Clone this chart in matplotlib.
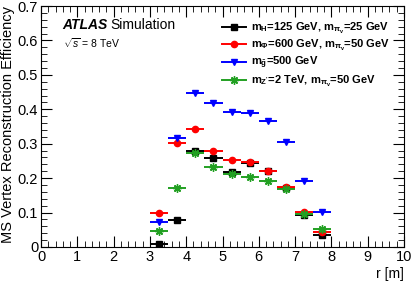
import numpy as np
import matplotlib.pyplot as plt
from matplotlib.ticker import MultipleLocator
from matplotlib.lines import Line2D

plt.rcParams['font.family'] = ['Liberation Sans', 'DejaVu Sans']
plt.rcParams['mathtext.fontset'] = 'custom'
plt.rcParams['mathtext.rm'] = 'Liberation Sans'
plt.rcParams['mathtext.it'] = 'Liberation Sans:italic'
plt.rcParams['mathtext.bf'] = 'Liberation Sans:bold'

# -------- DATA --------
r_bins = [3.25, 3.75, 4.25, 4.75, 5.25, 5.75, 6.25, 6.75, 7.25, 7.75]
eff_higgs = [0.008, 0.078, 0.279, 0.259, 0.219, 0.243, 0.222, 0.172, 0.093, 0.035]
eff_phi = [0.100, 0.302, 0.343, 0.279, 0.253, 0.247, 0.221, 0.175, 0.103, 0.045]
eff_gluino = [0.072, 0.318, 0.447, 0.419, 0.392, 0.389, 0.365, 0.304, 0.191, 0.103]
eff_zprime = [0.046, 0.172, 0.274, 0.232, 0.212, 0.204, 0.193, 0.168, 0.095, 0.052]

labels = [
    r"$\mathbf{m_{H}}$=125 GeV, $\mathbf{m_{\pi_v}}$=25 GeV",
    r"$\mathbf{m_{\Phi}}$=600 GeV, $\mathbf{m_{\pi_v}}$=50 GeV",
    r"$\mathbf{m_{\tilde{g}}}$=500 GeV",
    r"$\mathbf{m_{Z'}}$=2 TeV, $\mathbf{m_{\pi_v}}$=50 GeV",
]

# -------- PLOT --------
fig = plt.figure(figsize=(4.15, 2.81), dpi=100)
ax = fig.add_axes([41 / 415, 34 / 281, 363 / 415, 241 / 281])

series = [
    (eff_higgs, 'black', 's', 4),
    (eff_phi, 'red', 'o', 4.5),
    (eff_gluino, 'blue', 'v', 4.5),
    (eff_zprime, '#22a022', (8, 2, 0), 6),
]
for vals, col, mk, ms in series:
    ax.errorbar(r_bins, vals, xerr=0.25, yerr=0.004, fmt='none', ecolor=col,
                lw=1.4, capsize=0)
    ax.plot(r_bins, vals, linestyle='none', marker=mk, color=col, ms=ms,
            mew=1.0)

ax.set_xlim(0, 10)
ax.set_ylim(0, 0.7)
ax.set_xticks(range(11))
ax.set_xticklabels([str(i) for i in range(11)])
ax.set_yticks(np.arange(0, 0.71, 0.1))
ax.set_yticklabels(['0', '0.1', '0.2', '0.3', '0.4', '0.5', '0.6', '0.7'])
ax.xaxis.set_minor_locator(MultipleLocator(0.2))
ax.yaxis.set_minor_locator(MultipleLocator(0.02))
ax.tick_params(which='both', direction='in', top=True, right=True,
               labelsize=10.5, pad=2)
ax.tick_params(which='major', length=8)
ax.tick_params(which='minor', length=4)

ax.set_ylabel("MS Vertex Reconstruction Efficiency", fontsize=10.5, loc='top',
              labelpad=2)
ax.set_xlabel("r [m]", fontsize=10, loc='right', labelpad=2)

ax.text(0.06, 0.905, "ATLAS", transform=ax.transAxes, fontsize=10,
        fontweight='bold', style='italic')
ax.text(0.19, 0.905, "Simulation", transform=ax.transAxes, fontsize=10)
ax.text(0.06, 0.825, r"$\sqrt{s}$ = 8 TeV", transform=ax.transAxes, fontsize=7.5)

handles = [Line2D([], [], color=col, marker=mk, ms=ms, lw=1.4, mew=1.0)
           for (_, col, mk, ms) in series]
leg = ax.legend(handles, labels, loc='upper right', frameon=False,
                handlelength=2.1, handletextpad=0.45, borderaxespad=0.9,
                labelspacing=0.2, prop={'weight': 'bold', 'size': 8})

fig.savefig("out.png", dpi=100)
